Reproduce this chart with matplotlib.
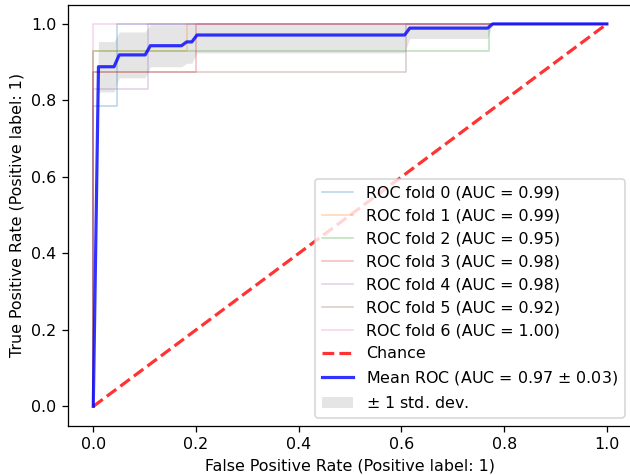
import matplotlib
matplotlib.use("Agg")
import matplotlib.pyplot as plt

# ROC curves per fold (fpr, tpr vertices)
fold_fpr = [
    [0.0, 0.0, 0.046, 0.046, 1.0],
    [0.0, 0.0, 0.182, 0.182, 1.0],
    [0.0, 0.0, 0.771, 0.771, 1.0],
    [0.0, 0.0, 0.200, 0.200, 1.0],
    [0.0, 0.0, 0.107, 0.107, 1.0],
    [0.0, 0.0, 0.608, 0.608, 1.0],
    [0.0, 0.0, 1.0],
]
fold_tpr = [
    [0.0, 0.786, 0.786, 1.0, 1.0],
    [0.0, 0.929, 0.929, 1.0, 1.0],
    [0.0, 0.929, 0.929, 1.0, 1.0],
    [0.0, 0.875, 0.875, 1.0, 1.0],
    [0.0, 0.830, 0.830, 1.0, 1.0],
    [0.0, 0.875, 0.875, 1.0, 1.0],
    [0.0, 1.0, 1.0],
]
fold_auc = [0.99, 0.99, 0.95, 0.98, 0.98, 0.92, 1.00]

# Mean ROC curve and its standard deviation (vertices)
mean_fpr = [0.0, 0.0101, 0.0404, 0.0505, 0.1010, 0.1111, 0.1717, 0.1818,
            0.1919, 0.2020, 0.6061, 0.6162, 0.7677, 0.7778, 1.0]
mean_tpr = [0.0, 0.888, 0.888, 0.919, 0.919, 0.943, 0.943, 0.953,
            0.953, 0.971, 0.971, 0.989, 0.989, 1.0, 1.0]
std_tpr = [0.0, 0.066, 0.066, 0.060, 0.060, 0.055, 0.055, 0.056,
           0.056, 0.047, 0.047, 0.027, 0.027, 0.0, 0.0]
mean_auc = 0.97
std_auc = 0.03

chance_x = [0, 1]
chance_y = [0, 1]

DPI = 114.6
fig = plt.figure(figsize=(630 / DPI, 475 / DPI), dpi=DPI)
ax = fig.add_axes([0.1073, 0.1042, 0.8968, 0.8857])

colors = plt.rcParams['axes.prop_cycle'].by_key()['color']
for i, (fx, fy, a) in enumerate(zip(fold_fpr, fold_tpr, fold_auc)):
    ax.plot(fx, fy, color=colors[i], lw=1, alpha=0.3,
            label=f"ROC fold {i} (AUC = {a:.2f})")

ax.plot(chance_x, chance_y, linestyle='--', lw=2, color='r', label='Chance', alpha=0.8)
ax.plot(mean_fpr, mean_tpr, color='b', lw=2, alpha=0.8,
        label=f"Mean ROC (AUC = {mean_auc:.2f} $\\pm$ {std_auc:.2f})")

upper = [min(m + s, 1.0) for m, s in zip(mean_tpr, std_tpr)]
lower = [max(m - s, 0.0) for m, s in zip(mean_tpr, std_tpr)]
ax.fill_between(mean_fpr, lower, upper, color='grey', alpha=0.2, lw=0,
                label=r'$\pm$ 1 std. dev.')

ax.set_xlim(-0.05, 1.05)
ax.set_ylim(-0.05, 1.05)
ax.set_xlabel("False Positive Rate (Positive label: 1)")
ax.set_ylabel("True Positive Rate (Positive label: 1)")
ax.legend(loc="lower right")

fig.savefig("out.png", dpi=DPI)
